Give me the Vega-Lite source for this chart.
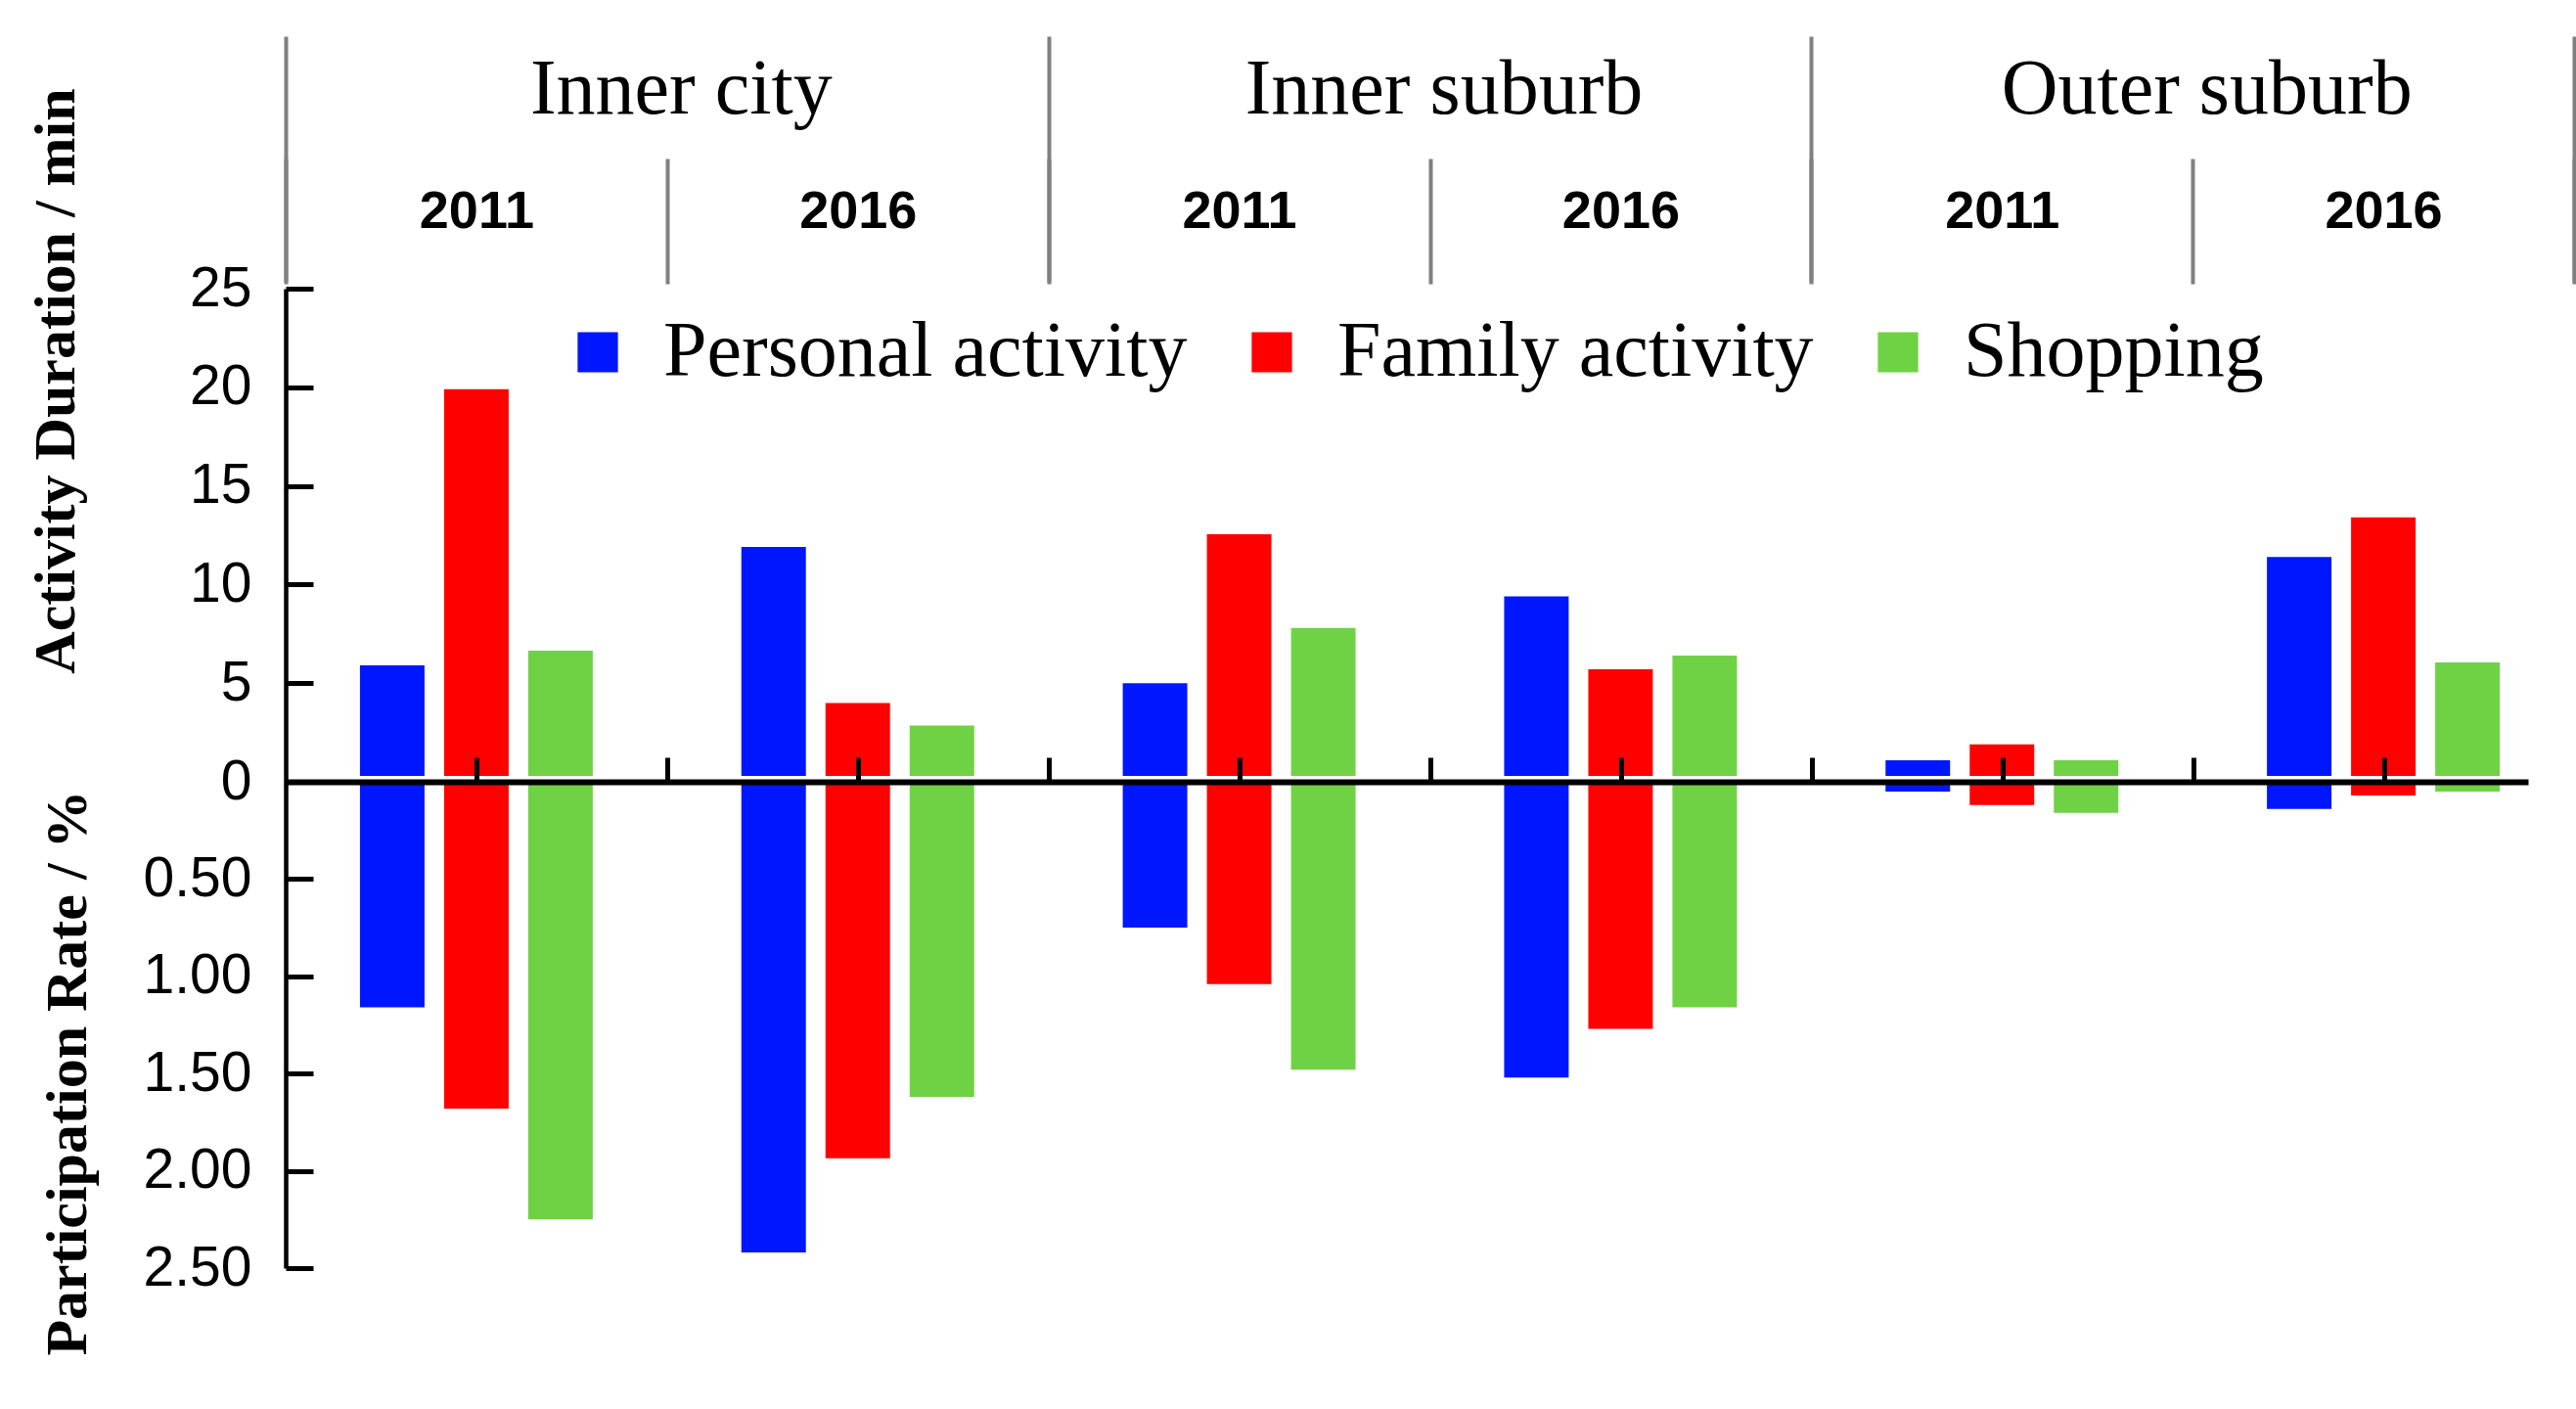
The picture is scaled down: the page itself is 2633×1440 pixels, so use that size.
{
  "$schema": "https://vega.github.io/schema/vega-lite/v6.json",
  "width": 2339,
  "height": 1001,
  "autosize": {"type": "none"},
  "padding": {"left": 292, "top": 295, "right": 2, "bottom": 144},
  "background": "white",
  "config": {
    "view": {"stroke": null},
    "axis": {"grid": false},
    "legend": {"padding": 0}
  },
  "data": {
    "values": [
      {"group": "Inner city", "year": "2011", "sub": "Inner city 2011", "activity": "Personal activity", "duration": 5.9, "rate": 1.16},
      {"group": "Inner city", "year": "2011", "sub": "Inner city 2011", "activity": "Family activity", "duration": 19.9, "rate": 1.68},
      {"group": "Inner city", "year": "2011", "sub": "Inner city 2011", "activity": "Shopping", "duration": 6.65, "rate": 2.25},
      {"group": "Inner city", "year": "2016", "sub": "Inner city 2016", "activity": "Personal activity", "duration": 11.9, "rate": 2.42},
      {"group": "Inner city", "year": "2016", "sub": "Inner city 2016", "activity": "Family activity", "duration": 4.0, "rate": 1.935},
      {"group": "Inner city", "year": "2016", "sub": "Inner city 2016", "activity": "Shopping", "duration": 2.85, "rate": 1.62},
      {"group": "Inner suburb", "year": "2011", "sub": "Inner suburb 2011", "activity": "Personal activity", "duration": 5.0, "rate": 0.75},
      {"group": "Inner suburb", "year": "2011", "sub": "Inner suburb 2011", "activity": "Family activity", "duration": 12.55, "rate": 1.04},
      {"group": "Inner suburb", "year": "2011", "sub": "Inner suburb 2011", "activity": "Shopping", "duration": 7.8, "rate": 1.48},
      {"group": "Inner suburb", "year": "2016", "sub": "Inner suburb 2016", "activity": "Personal activity", "duration": 9.4, "rate": 1.52},
      {"group": "Inner suburb", "year": "2016", "sub": "Inner suburb 2016", "activity": "Family activity", "duration": 5.7, "rate": 1.27},
      {"group": "Inner suburb", "year": "2016", "sub": "Inner suburb 2016", "activity": "Shopping", "duration": 6.4, "rate": 1.16},
      {"group": "Outer suburb", "year": "2011", "sub": "Outer suburb 2011", "activity": "Personal activity", "duration": 1.09, "rate": 0.05},
      {"group": "Outer suburb", "year": "2011", "sub": "Outer suburb 2011", "activity": "Family activity", "duration": 1.9, "rate": 0.12},
      {"group": "Outer suburb", "year": "2011", "sub": "Outer suburb 2011", "activity": "Shopping", "duration": 1.09, "rate": 0.16},
      {"group": "Outer suburb", "year": "2016", "sub": "Outer suburb 2016", "activity": "Personal activity", "duration": 11.4, "rate": 0.14},
      {"group": "Outer suburb", "year": "2016", "sub": "Outer suburb 2016", "activity": "Family activity", "duration": 13.4, "rate": 0.07},
      {"group": "Outer suburb", "year": "2016", "sub": "Outer suburb 2016", "activity": "Shopping", "duration": 6.05, "rate": 0.05}
    ]
  },
  "resolve": {"scale": {"x": "independent", "y": "independent"}},
  "layer": [
    {
      "layer": [
        {
          "mark": {"type": "bar"},
          "encoding": {
            "x": {
              "field": "sub", "type": "nominal",
              "sort": ["Inner city 2011", "Inner city 2016", "Inner suburb 2011", "Inner suburb 2016", "Outer suburb 2011", "Outer suburb 2016"],
              "scale": {"paddingInner": 0, "paddingOuter": 0},
              "axis": {
                "orient": "top", "offset": 5, "title": null, "domain": false, "zindex": 1,
                "tickBand": "extent", "tickSize": 128, "tickColor": "#808080", "tickWidth": 4,
                "labelExpr": "slice(datum.label, -4)", "labelAngle": 0,
                "labelFont": "Liberation Sans", "labelFontWeight": "bold", "labelFontSize": 54, "labelColor": "black",
                "labelBaseline": "alphabetic", "labelPadding": -70, "labelLimit": 1000
              }
            },
            "xOffset": {
              "field": "activity", "type": "nominal",
              "sort": ["Personal activity", "Family activity", "Shopping"],
              "scale": {"paddingInner": 0.233, "paddingOuter": 0.883}
            },
            "y": {
              "field": "duration", "type": "quantitative",
              "scale": {"domain": [-24.65, 25], "nice": false, "zero": false},
              "axis": {
                "orient": "left", "values": [0, 5, 10, 15, 20, 25], "format": "d", "zindex": 1,
                "domain": true, "domainColor": "black", "domainWidth": 4.5,
                "tickSize": -28, "tickWidth": 5, "tickColor": "black",
                "labelFont": "Liberation Sans", "labelFontSize": 57, "labelColor": "black", "labelPadding": 63,
                "title": "Activity Duration / min", "titleFont": "Liberation Serif", "titleFontWeight": "bold", "titleFontSize": 60,
                "titleColor": "black", "titleAngle": 270, "titleAlign": "center", "titleBaseline": "alphabetic",
                "titleX": -217, "titleY": 94
              }
            },
            "color": {
              "field": "activity", "type": "nominal",
              "sort": ["Personal activity", "Family activity", "Shopping"],
              "scale": {"domain": ["Personal activity", "Family activity", "Shopping"], "range": ["#0016ff", "#ff0000", "#6fd244"]},
              "legend": {
                "title": null, "orient": "none", "direction": "horizontal", "legendX": 279, "legendY": 25,
                "symbolType": "square", "symbolSize": 1700, "symbolStrokeWidth": 0, "symbolOpacity": 1,
                "labelFont": "Liberation Serif", "labelFontSize": 80, "labelColor": "black", "labelOffset": 27,
                "columnPadding": 46, "labelLimit": 1000
              }
            }
          }
        },
        {
          "mark": {"type": "rule", "color": "white", "strokeWidth": 11},
          "encoding": {"y": {"datum": 0, "type": "quantitative"}}
        }
      ]
    },
    {
      "mark": {"type": "bar"},
      "encoding": {
        "x": {
          "field": "sub", "type": "nominal",
          "sort": ["Inner city 2011", "Inner city 2016", "Inner suburb 2011", "Inner suburb 2016", "Outer suburb 2011", "Outer suburb 2016"],
          "scale": {"paddingInner": 0, "paddingOuter": 0},
          "axis": null
        },
        "xOffset": {
          "field": "activity", "type": "nominal",
          "sort": ["Personal activity", "Family activity", "Shopping"],
          "scale": {"paddingInner": 0.233, "paddingOuter": 0.883}
        },
        "y": {
          "field": "rate", "type": "quantitative",
          "scale": {"domain": [-2.535, 2.5], "nice": false, "zero": false, "reverse": true},
          "axis": {
            "orient": "left", "values": [0.5, 1, 1.5, 2, 2.5], "format": ".2f", "zindex": 1,
            "domain": false,
            "tickSize": -28, "tickWidth": 5, "tickColor": "black",
            "labelFont": "Liberation Sans", "labelFontSize": 57, "labelColor": "black", "labelPadding": 63,
            "title": "Participation Rate / %", "titleFont": "Liberation Serif", "titleFontWeight": "bold", "titleFontSize": 60,
            "titleColor": "black", "titleAngle": 270, "titleAlign": "center", "titleBaseline": "alphabetic",
            "titleX": -205, "titleY": 801
          }
        },
        "color": {
          "field": "activity", "type": "nominal",
          "sort": ["Personal activity", "Family activity", "Shopping"],
          "scale": {"domain": ["Personal activity", "Family activity", "Shopping"], "range": ["#0016ff", "#ff0000", "#6fd244"]}
        }
      }
    },
    {
      "mark": {"type": "bar", "opacity": 0},
      "encoding": {
        "x": {
          "field": "group", "type": "nominal",
          "sort": ["Inner city", "Inner suburb", "Outer suburb"],
          "scale": {"type": "band", "paddingInner": 0, "paddingOuter": 0},
          "axis": {
            "orient": "top", "offset": 7, "title": null, "domain": false, "zindex": 1,
            "tickBand": "extent", "tickSize": 251, "tickColor": "#808080", "tickWidth": 4,
            "labelAngle": 0, "labelFont": "Liberation Serif", "labelFontSize": 80, "labelColor": "black",
            "labelBaseline": "alphabetic", "labelPadding": -78, "labelOffset": 14, "labelLimit": 1000
          }
        }
      }
    },
    {
      "mark": {"type": "rule", "opacity": 0},
      "encoding": {
        "x": {
          "datum": 0, "type": "quantitative",
          "scale": {"domain": [0, 11.755], "range": [0, 2292], "nice": false, "zero": false},
          "axis": {
            "orient": "bottom", "offset": -497, "title": null, "labels": false, "zindex": 2,
            "values": [1, 2, 3, 4, 5, 6, 7, 8, 9, 10, 11],
            "tickSize": -25, "tickWidth": 5, "tickColor": "black",
            "domain": true, "domainColor": "black", "domainWidth": 6
          }
        }
      }
    }
  ]
}
